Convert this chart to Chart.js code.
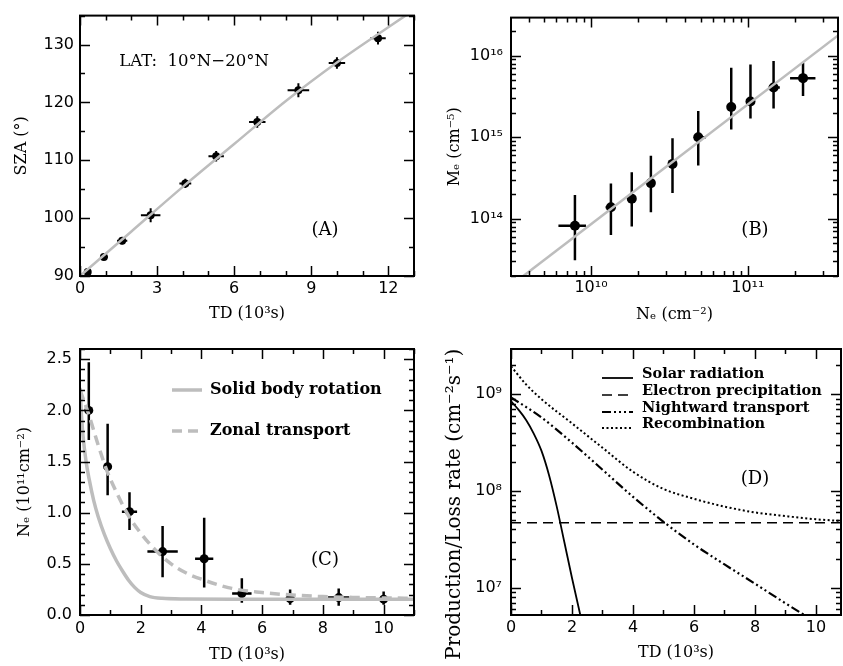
<!DOCTYPE html>
<html>
<head>
<meta charset="utf-8">
<script src="https://cdn.jsdelivr.net/npm/chart.js@4"></script>
<style>
html, body { margin: 0; padding: 0; background: #fff; }
#wrap { position: relative; width: 843px; height: 666px; overflow: hidden; }
canvas { position: absolute; }
</style>
</head>
<body>
<div id="wrap">
  <canvas id="chartA" width="421" height="330" style="left:0px;top:0px"></canvas>
  <canvas id="chartB" width="423" height="330" style="left:420px;top:0px"></canvas>
  <canvas id="chartC" width="421" height="336" style="left:0px;top:330px"></canvas>
  <canvas id="chartD" width="423" height="336" style="left:420px;top:330px"></canvas>
</div>
<script>
// (A) SZA against time since dusk
const tdA = [0.3, 0.93, 1.64, 2.75, 4.1, 5.3, 6.9, 8.5, 10.0, 11.6];
const szaA = [90.7, 93.3, 96.1, 100.5, 106.0, 110.7, 116.6, 122.1, 126.8, 131.1];
const tdErrA = [0.12, 0.15, 0.2, 0.38, 0.23, 0.3, 0.32, 0.42, 0.32, 0.3];
const szaErrA = [0.5, 0.5, 0.6, 1.2, 0.8, 0.9, 1.0, 1.2, 1.0, 1.1];
const fitTdA = [0, 2, 4, 6, 8, 10, 12, 13];
const fitSzaA = [90, 97.7, 105.4, 112.8, 120.2, 126.9, 133.0, 136.0];

// (B) Me against Ne
const neB = [7.9e9, 1.34e10, 1.82e10, 2.41e10, 3.31e10, 4.83e10, 7.84e10, 1.04e11, 1.46e11, 2.25e11];
const neLoB = [6.2e9, 1.24e10, 1.76e10, 2.33e10, 3.2e10, 4.6e10, 7.6e10, 9.9e10, 1.36e11, 1.86e11];
const neHiB = [9.3e9, 1.44e10, 1.88e10, 2.49e10, 3.42e10, 5.4e10, 8.1e10, 1.09e11, 1.6e11, 2.7e11];
const meB = [8.2e13, 1.38e14, 1.76e14, 2.73e14, 4.7e14, 1.0e15, 2.35e15, 2.74e15, 4.07e15, 5.3e15];
const meLoB = [3.1e13, 6.3e13, 8.0e13, 1.2e14, 2.07e14, 4.5e14, 1.24e15, 1.69e15, 2.25e15, 3.2e15];
const meHiB = [1.95e14, 2.7e14, 3.7e14, 5.9e14, 9.7e14, 2.1e15, 7.1e15, 7.8e15, 8.6e15, 8.2e15];
const fitNeB = [3.7e9, 3.81e11];
const fitMeB = [1.98e13, 1.8e16];

// (C) Ne against time
const tdC = [0.29, 0.91, 1.63, 2.72, 4.09, 5.33, 6.92, 8.52, 10.0];
const neC = [2.0, 1.45, 1.01, 0.62, 0.55, 0.21, 0.16, 0.17, 0.155];
const neLoC = [1.71, 1.17, 0.83, 0.37, 0.27, 0.12, 0.1, 0.09, 0.1];
const neHiC = [2.47, 1.87, 1.2, 0.87, 0.95, 0.36, 0.25, 0.26, 0.23];
const tdErrC = [0, 0.08, 0.25, 0.5, 0.3, 0.32, 0.15, 0.35, 0.2];
const tdSolid = [0, 0.05, 0.1, 0.2, 0.3, 0.45, 0.6, 0.8, 1.0, 1.2, 1.4, 1.6, 1.8, 2.0, 2.3, 2.7, 3.5, 5, 7, 9, 11];
const neSolid = [2.22, 1.95, 1.75, 1.5, 1.33, 1.12, 0.96, 0.79, 0.65, 0.53, 0.43, 0.34, 0.27, 0.22, 0.18, 0.163, 0.157, 0.155, 0.155, 0.155, 0.155];
const tdZonal = [0, 0.3, 0.6, 0.9, 1.2, 1.6, 2.0, 2.5, 3.0, 3.5, 4.0, 5.0, 6.0, 7.0, 8.0, 9.0, 10, 11];
const neZonal = [2.2, 1.95, 1.66, 1.4, 1.2, 0.97, 0.8, 0.63, 0.5, 0.41, 0.35, 0.26, 0.22, 0.195, 0.18, 0.172, 0.167, 0.163];

// (D) production / loss rates
const tdSolar = [0, 0.25, 0.5, 0.75, 1.0, 1.25, 1.5, 1.75, 2.0, 2.25, 2.4];
const solar = [8.5e8, 6.9e8, 5.4e8, 3.9e8, 2.6e8, 1.45e8, 6.9e7, 2.95e7, 1.26e7, 5.6e6, 3.5e6];
const tdElec = [0, 10.82];
const elec = [4.7e7, 4.7e7];
const tdNight = [0, 1, 2, 3, 4, 5, 6, 7, 8, 9, 10];
const night = [9.3e8, 5.75e8, 3.16e8, 1.66e8, 8.7e7, 4.8e7, 2.8e7, 1.74e7, 1.1e7, 6.9e6, 4.4e6];
const tdRecomb = [0, 0.5, 1, 2, 3, 4, 5, 6, 7, 8, 9, 10, 10.82];
const recomb = [1.95e9, 1.26e9, 8.9e8, 5.0e8, 2.8e8, 1.58e8, 1.05e8, 8.3e7, 6.9e7, 6.0e7, 5.5e7, 5.1e7, 4.9e7];

const GRAY = '#bdbdbd';
const tickFont = {family: 'DejaVu Sans', size: 16};
const titleFont = {family: 'DejaVu Serif', size: 16};
const SUP = {'0': '⁰', '1': '¹', '2': '²', '3': '³', '4': '⁴', '5': '⁵', '6': '⁶', '7': '⁷', '8': '⁸', '9': '⁹'};

function pow10Label(v) {
  const e = Math.log10(v);
  if (Math.abs(e - Math.round(e)) > 1e-6) return '';
  return '10' + String(Math.round(e)).split('').map(c => SUP[c]).join('');
}
function stepLabel(major, digits) {
  return v => Math.abs(v / major - Math.round(v / major)) < 1e-6 ? v.toFixed(digits) : '';
}
function pts(xs, ys) { return xs.map((x, i) => ({x, y: ys[i]})); }
// error bars as broken line segments
function vBars(xs, lo, hi) {
  const out = [];
  xs.forEach((x, i) => { out.push({x, y: lo[i]}, {x, y: hi[i]}, {x: null, y: null}); });
  return out;
}
function hBars(ys, lo, hi) {
  const out = [];
  ys.forEach((y, i) => { if (hi[i] > lo[i]) out.push({x: lo[i], y}, {x: hi[i], y}, {x: null, y: null}); });
  return out;
}
function barSet(data, w) {
  return {type: 'line', data, borderColor: '#000', borderWidth: w, pointRadius: 0, order: 2};
}
function dotSet(data, r) {
  return {type: 'line', data, showLine: false, pointRadius: r, pointBackgroundColor: '#000', pointBorderWidth: 0, order: 1};
}
function curve(label, data, color, width, dash) {
  return {type: 'line', label, data, borderColor: color, borderWidth: width, borderDash: dash || [],
    pointRadius: 0, cubicInterpolationMode: 'monotone', order: 0};
}

// box with inward ticks on all four sides
const frame = {
  id: 'frame',
  afterDraw(chart) {
    const {ctx, chartArea: a} = chart;
    ctx.save();
    ctx.strokeStyle = '#000';
    ctx.lineWidth = 1.5;
    ['x', 'y'].forEach(id => {
      const s = chart.scales[id];
      s.ticks.forEach(t => {
        if (s.type === 'logarithmic') {
          const m = t.value / Math.pow(10, Math.floor(Math.log10(t.value) + 1e-9));
          if (Math.abs(m - Math.round(m)) > 1e-6) return;
        }
        const len = t.label ? 10 : 5;
        const p = Math.round(s.getPixelForValue(t.value)) + 0.5;
        ctx.beginPath();
        if (id === 'x') {
          ctx.moveTo(p, a.bottom); ctx.lineTo(p, a.bottom - len);
          ctx.moveTo(p, a.top); ctx.lineTo(p, a.top + len);
        } else {
          ctx.moveTo(a.left, p); ctx.lineTo(a.left + len, p);
          ctx.moveTo(a.right, p); ctx.lineTo(a.right - len, p);
        }
        ctx.stroke();
      });
    });
    ctx.lineWidth = 2;
    ctx.strokeRect(a.left, a.top, a.right - a.left, a.bottom - a.top);
    ctx.restore();
  }
};

function notes(texts, legend) {
  return {
    id: 'notes',
    afterDraw(chart) {
      const ctx = chart.ctx;
      ctx.save();
      ctx.fillStyle = '#000';
      ctx.textBaseline = 'middle';
      texts.forEach(t => {
        ctx.font = t.font;
        ctx.textAlign = 'center';
        ctx.fillText(t.text, t.x, t.y);
      });
      if (legend) {
        legend.items.forEach(it => {
          const ds = chart.data.datasets.find(d => d.label === it.label);
          ctx.strokeStyle = ds.borderColor;
          ctx.lineWidth = ds.borderWidth;
          ctx.setLineDash(ds.borderDash || []);
          ctx.beginPath();
          ctx.moveTo(legend.x0, it.y + legend.dy);
          ctx.lineTo(legend.x1, it.y + legend.dy);
          ctx.stroke();
          ctx.setLineDash([]);
          ctx.font = legend.font;
          ctx.textAlign = 'left';
          ctx.fillText(it.label, legend.tx, it.y);
        });
      }
      ctx.restore();
    }
  };
}

function axis(o) {
  return {
    type: o.type || 'linear',
    min: o.min, max: o.max,
    grid: {display: false, drawTicks: false},
    border: {display: false},
    ticks: {stepSize: o.step, autoSkip: false, maxRotation: 0, minRotation: 0, includeBounds: false,
      padding: o.pad, font: tickFont, color: '#000', callback: o.label},
    title: {display: true, text: o.title, font: o.titleFont || titleFont, color: '#000', padding: o.tpad},
    afterFit: s => { if (o.w) s.width = o.w; if (o.h) s.height = o.h; }
  };
}

function make(id, datasets, x, y, padding, extra) {
  return new Chart(document.getElementById(id), {
    type: 'line',
    data: {datasets},
    options: {
      responsive: false,
      animation: false,
      events: [],
      layout: {padding},
      plugins: {legend: {display: false}, tooltip: {enabled: false}},
      scales: {x, y}
    },
    plugins: [frame, extra]
  });
}

// panel A
make('chartA', [
  curve('fit', pts(fitTdA, fitSzaA), GRAY, 2.5),
  dotSet(pts(tdA, szaA), 4),
  barSet(vBars(tdA, szaA.map((v, i) => v - szaErrA[i]), szaA.map((v, i) => v + szaErrA[i])), 2),
  barSet(hBars(szaA, tdA.map((v, i) => v - tdErrA[i]), tdA.map((v, i) => v + tdErrA[i])), 2)
],
  axis({min: 0, max: 13, step: 1, label: stepLabel(3, 0), pad: 3, title: 'TD (10³s)', tpad: {top: 0, bottom: 7}, h: 54}),
  axis({min: 90, max: 135, step: 5, label: stepLabel(10, 0), pad: 6, title: 'SZA (°)', tpad: {top: 12, bottom: 0}, w: 80}),
  {left: 0, top: 9, right: 7, bottom: 0},
  notes([
    {text: 'LAT:  10°N−20°N', x: 194, y: 62, font: '16.5px "DejaVu Serif"'},
    {text: '(A)', x: 325, y: 230, font: '18px "DejaVu Serif"'}
  ])
);

// panel B
make('chartB', [
  curve('fit', pts(fitNeB, fitMeB), GRAY, 2.5),
  dotSet(pts(neB, meB), 5),
  barSet(vBars(neB, meLoB, meHiB), 2.5),
  barSet(hBars(meB, neLoB, neHiB), 2.5)
],
  axis({type: 'logarithmic', min: 3.09e9, max: 3.76e11, label: pow10Label, pad: 2, title: 'Nₑ (cm⁻²)', tpad: {top: 0, bottom: 6}, h: 54}),
  axis({type: 'logarithmic', min: 1.98e13, max: 2.93e16, label: pow10Label, pad: 8, title: 'Mₑ (cm⁻⁵)', tpad: {top: 25, bottom: 0}, w: 91}),
  {left: 0, top: 9, right: 2, bottom: 0},
  notes([{text: '(B)', x: 335, y: 230, font: '18px "DejaVu Serif"'}])
);

// panel C
make('chartC', [
  curve('Solid body rotation', pts(tdSolid, neSolid), GRAY, 3.5),
  curve('Zonal transport', pts(tdZonal, neZonal), GRAY, 3.5, [10, 6]),
  dotSet(pts(tdC, neC), 4.5),
  barSet(vBars(tdC, neLoC, neHiC), 2.5),
  barSet(hBars(neC, tdC.map((v, i) => v - tdErrC[i]), tdC.map((v, i) => v + tdErrC[i])), 2.5)
],
  axis({min: 0, max: 11, step: 1, label: stepLabel(2, 0), pad: 4, title: 'TD (10³s)', tpad: {top: 0, bottom: 2}, h: 51}),
  axis({min: 0, max: 2.6, step: 0.1, label: stepLabel(0.5, 1), pad: 8, title: 'Nₑ (10¹¹cm⁻²)', tpad: {top: 15, bottom: 0}, w: 80}),
  {left: 0, top: 19, right: 7, bottom: 0},
  notes([{text: '(C)', x: 325, y: 230, font: '18px "DejaVu Serif"'}],
    {x0: 172, x1: 202, tx: 210, dy: 0, font: 'bold 16px "DejaVu Serif"',
      items: [{label: 'Solid body rotation', y: 60}, {label: 'Zonal transport', y: 101}]})
);

// panel D
make('chartD', [
  curve('Solar radiation', pts(tdSolar, solar), '#000', 1.8),
  curve('Electron precipitation', pts(tdElec, elec), '#000', 1.5, [10, 6]),
  curve('Nightward transport', pts(tdNight, night), '#000', 2.2, [9, 3, 2, 3, 2, 3, 2, 3]),
  curve('Recombination', pts(tdRecomb, recomb), '#000', 2, [2, 2.5])
],
  axis({min: 0, max: 10.82, step: 1, label: stepLabel(2, 0), pad: 3, title: 'TD (10³s)', tpad: {top: 0, bottom: 4}, h: 51}),
  axis({type: 'logarithmic', min: 5.22e6, max: 2.94e9, label: pow10Label, pad: 9,
    title: 'Production/Loss rate (cm⁻²s⁻¹)       ', titleFont: {family: 'DejaVu Serif', size: 20},
    tpad: {top: 23, bottom: 0}, w: 91}),
  {left: 0, top: 19, right: 2, bottom: 0},
  notes([{text: '(D)', x: 335, y: 149, font: '18px "DejaVu Serif"'}],
    {x0: 182, x1: 213, tx: 222, dy: 4, font: 'bold 14.5px "DejaVu Serif"',
      items: [{label: 'Solar radiation', y: 44}, {label: 'Electron precipitation', y: 61},
        {label: 'Nightward transport', y: 78}, {label: 'Recombination', y: 94}]})
);
</script>
</body>
</html>
